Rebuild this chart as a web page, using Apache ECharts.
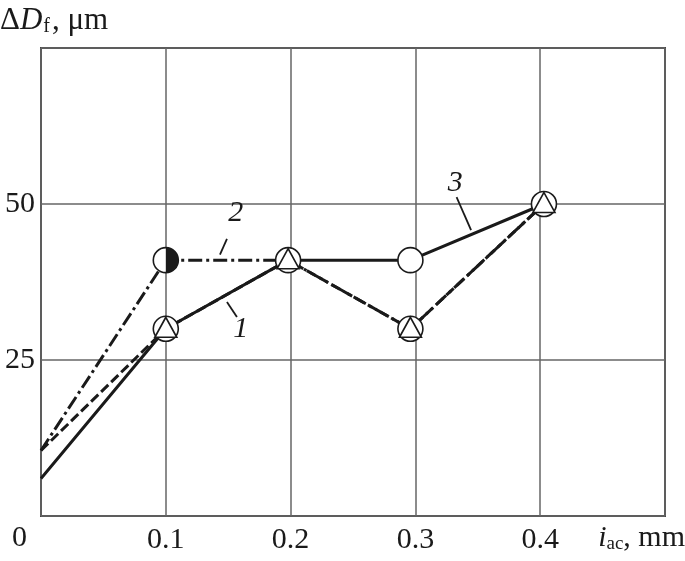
<!DOCTYPE html>
<html>
<head>
<meta charset="utf-8">
<script src="https://cdn.jsdelivr.net/npm/echarts@6/dist/echarts.min.js"></script>
<style>
	html, body { margin: 0; padding: 0; background: #fff; }
	#chart { width: 685px; height: 561px; }
</style>
</head>
<body>
<div id="chart"></div>
<script>
	// grain size change vs. allowance
	var xValues = [0, 0.1, 0.198, 0.296, 0.403];
	var curve1 = [10.5, 30, 41, 30, 50];
	var curve2 = [10.5, 41, 41, 30, 50];
	var curve3 = [6, 30, 41, 41, 50];

	var xTicks = ["0.1", "0.2", "0.3", "0.4"];
	var yTicks = ["25", "50"];

	// markers: circle with triangle, half-filled circle, empty circle
	var triIndexes = [1, 2, 3, 4];
	var halfIndexes = [1];
	var openIndexes = [3];

	// curve numbers and their leader lines
	var curveLabels = [["1", 0.160, 30.0], ["2", 0.156, 48.6], ["3", 0.332, 53.4]];
	var leader1 = [[0.157, 31.9], [0.149, 34.3]];
	var leader2 = [[0.149, 44.4], [0.1434, 41.9]];
	var leader3 = [[0.333, 51.1], [0.3446, 45.8]];

	function pairs(values) {
		return xValues.map(function (x, i) {
			return [x, values[i]];
		});
	}

	function pick(values, indexes) {
		return indexes.map(function (i) {
			return [xValues[i], values[i]];
		});
	}

	var ink = "#1a1a1a";
	var font = "Liberation Serif";

	var chart = echarts.init(document.getElementById("chart"));

	function curve(data, type) {
		return {
			type: "line",
			data: data,
			showSymbol: false,
			animation: false,
			silent: true,
			lineStyle: { color: ink, width: 3, type: type, opacity: 1 },
			z: 3
		};
	}

	function leader(data) {
		return {
			type: "line",
			data: data,
			showSymbol: false,
			animation: false,
			silent: true,
			lineStyle: { color: ink, width: 1.8, opacity: 1 },
			z: 6
		};
	}

	var option = {
		animation: false,
		grid: {
			left: 41,
			top: 48,
			right: 20,
			bottom: 45,
			show: true,
			borderColor: "#444",
			borderWidth: 2
		},
		xAxis: {
			type: "value",
			min: 0,
			max: 0.5,
			interval: 0.1,
			axisLine: { show: false },
			axisTick: { show: false },
			splitLine: { show: true, lineStyle: { color: "#666", width: 1.5 } },
			axisLabel: {
				margin: 9,
				color: ink,
				fontFamily: font,
				fontSize: 30,
				formatter: function (v) {
					var s = v.toFixed(1);
					return xTicks.indexOf(s) >= 0 ? s : "";
				}
			}
		},
		yAxis: {
			type: "value",
			min: 0,
			max: 75,
			interval: 25,
			axisLine: { show: false },
			axisTick: { show: false },
			splitLine: { show: true, lineStyle: { color: "#666", width: 1.5 } },
			axisLabel: {
				margin: 6,
				color: ink,
				fontFamily: font,
				fontSize: 30,
				formatter: function (v) {
					var s = String(v);
					return yTicks.indexOf(s) >= 0 ? s : "";
				}
			}
		},
		graphic: [
			{
				type: "text",
				left: 0,
				top: 5,
				style: {
					text: "Δ{d|D}{s|f}, μm",
					fill: ink,
					font: "31px " + font,
					rich: {
						d: { fontFamily: font, fontSize: 31, fontStyle: "italic", fill: ink },
						s: { fontFamily: font, fontSize: 20, fill: ink, padding: [12, 2, 0, 1] }
					}
				}
			},
			{
				type: "text",
				left: 12,
				top: 523,
				style: { text: "0", fill: ink, font: "30px " + font }
			},
			{
				type: "text",
				right: 0,
				top: 523,
				style: {
					text: "{i|i}{s|ac}, mm",
					fill: ink,
					font: "30px " + font,
					rich: {
						i: { fontFamily: font, fontSize: 30, fontStyle: "italic", fill: ink },
						s: { fontFamily: font, fontSize: 19, fill: ink, padding: [12, 0, 0, 0] }
					}
				}
			}
		],
		series: [
			curve(pairs(curve3), "solid"),
			curve(pairs(curve1), [10, 4]),
			curve(pairs(curve2), [14, 4, 3, 4]),
			leader(leader1),
			leader(leader2),
			leader(leader3),
			{
				// circles under all markers
				type: "scatter",
				data: pick(curve1, triIndexes).concat(pick(curve2, halfIndexes), pick(curve3, openIndexes)),
				symbol: "circle",
				symbolSize: 25,
				silent: true,
				itemStyle: { color: "#fff", borderColor: ink, borderWidth: 1.6, opacity: 1 },
				z: 10
			},
			{
				type: "scatter",
				data: pick(curve1, triIndexes),
				symbol: "triangle",
				symbolSize: [22, 20],
				symbolOffset: [0, -1.5],
				silent: true,
				itemStyle: { color: "#fff", borderColor: ink, borderWidth: 1.6, opacity: 1 },
				z: 11
			},
			{
				type: "scatter",
				data: pick(curve2, halfIndexes),
				symbol: "path://M0,0 A10,10 0 0 1 0,20 Z",
				symbolSize: [12.5, 25],
				symbolOffset: [6.25, 0],
				symbolKeepAspect: false,
				silent: true,
				itemStyle: { color: ink, opacity: 1 },
				z: 12
			},
			{
				type: "scatter",
				data: curveLabels.map(function (v) {
					return { name: v[0], value: [v[1], v[2]] };
				}),
				symbolSize: 0,
				silent: true,
				itemStyle: { opacity: 1 },
				label: {
					show: true,
					position: "inside",
					formatter: "{b}",
					color: ink,
					opacity: 1,
					fontFamily: font,
					fontStyle: "italic",
					fontSize: 30
				},
				z: 12
			}
		]
	};

	chart.setOption(option);
</script>
</body>
</html>
